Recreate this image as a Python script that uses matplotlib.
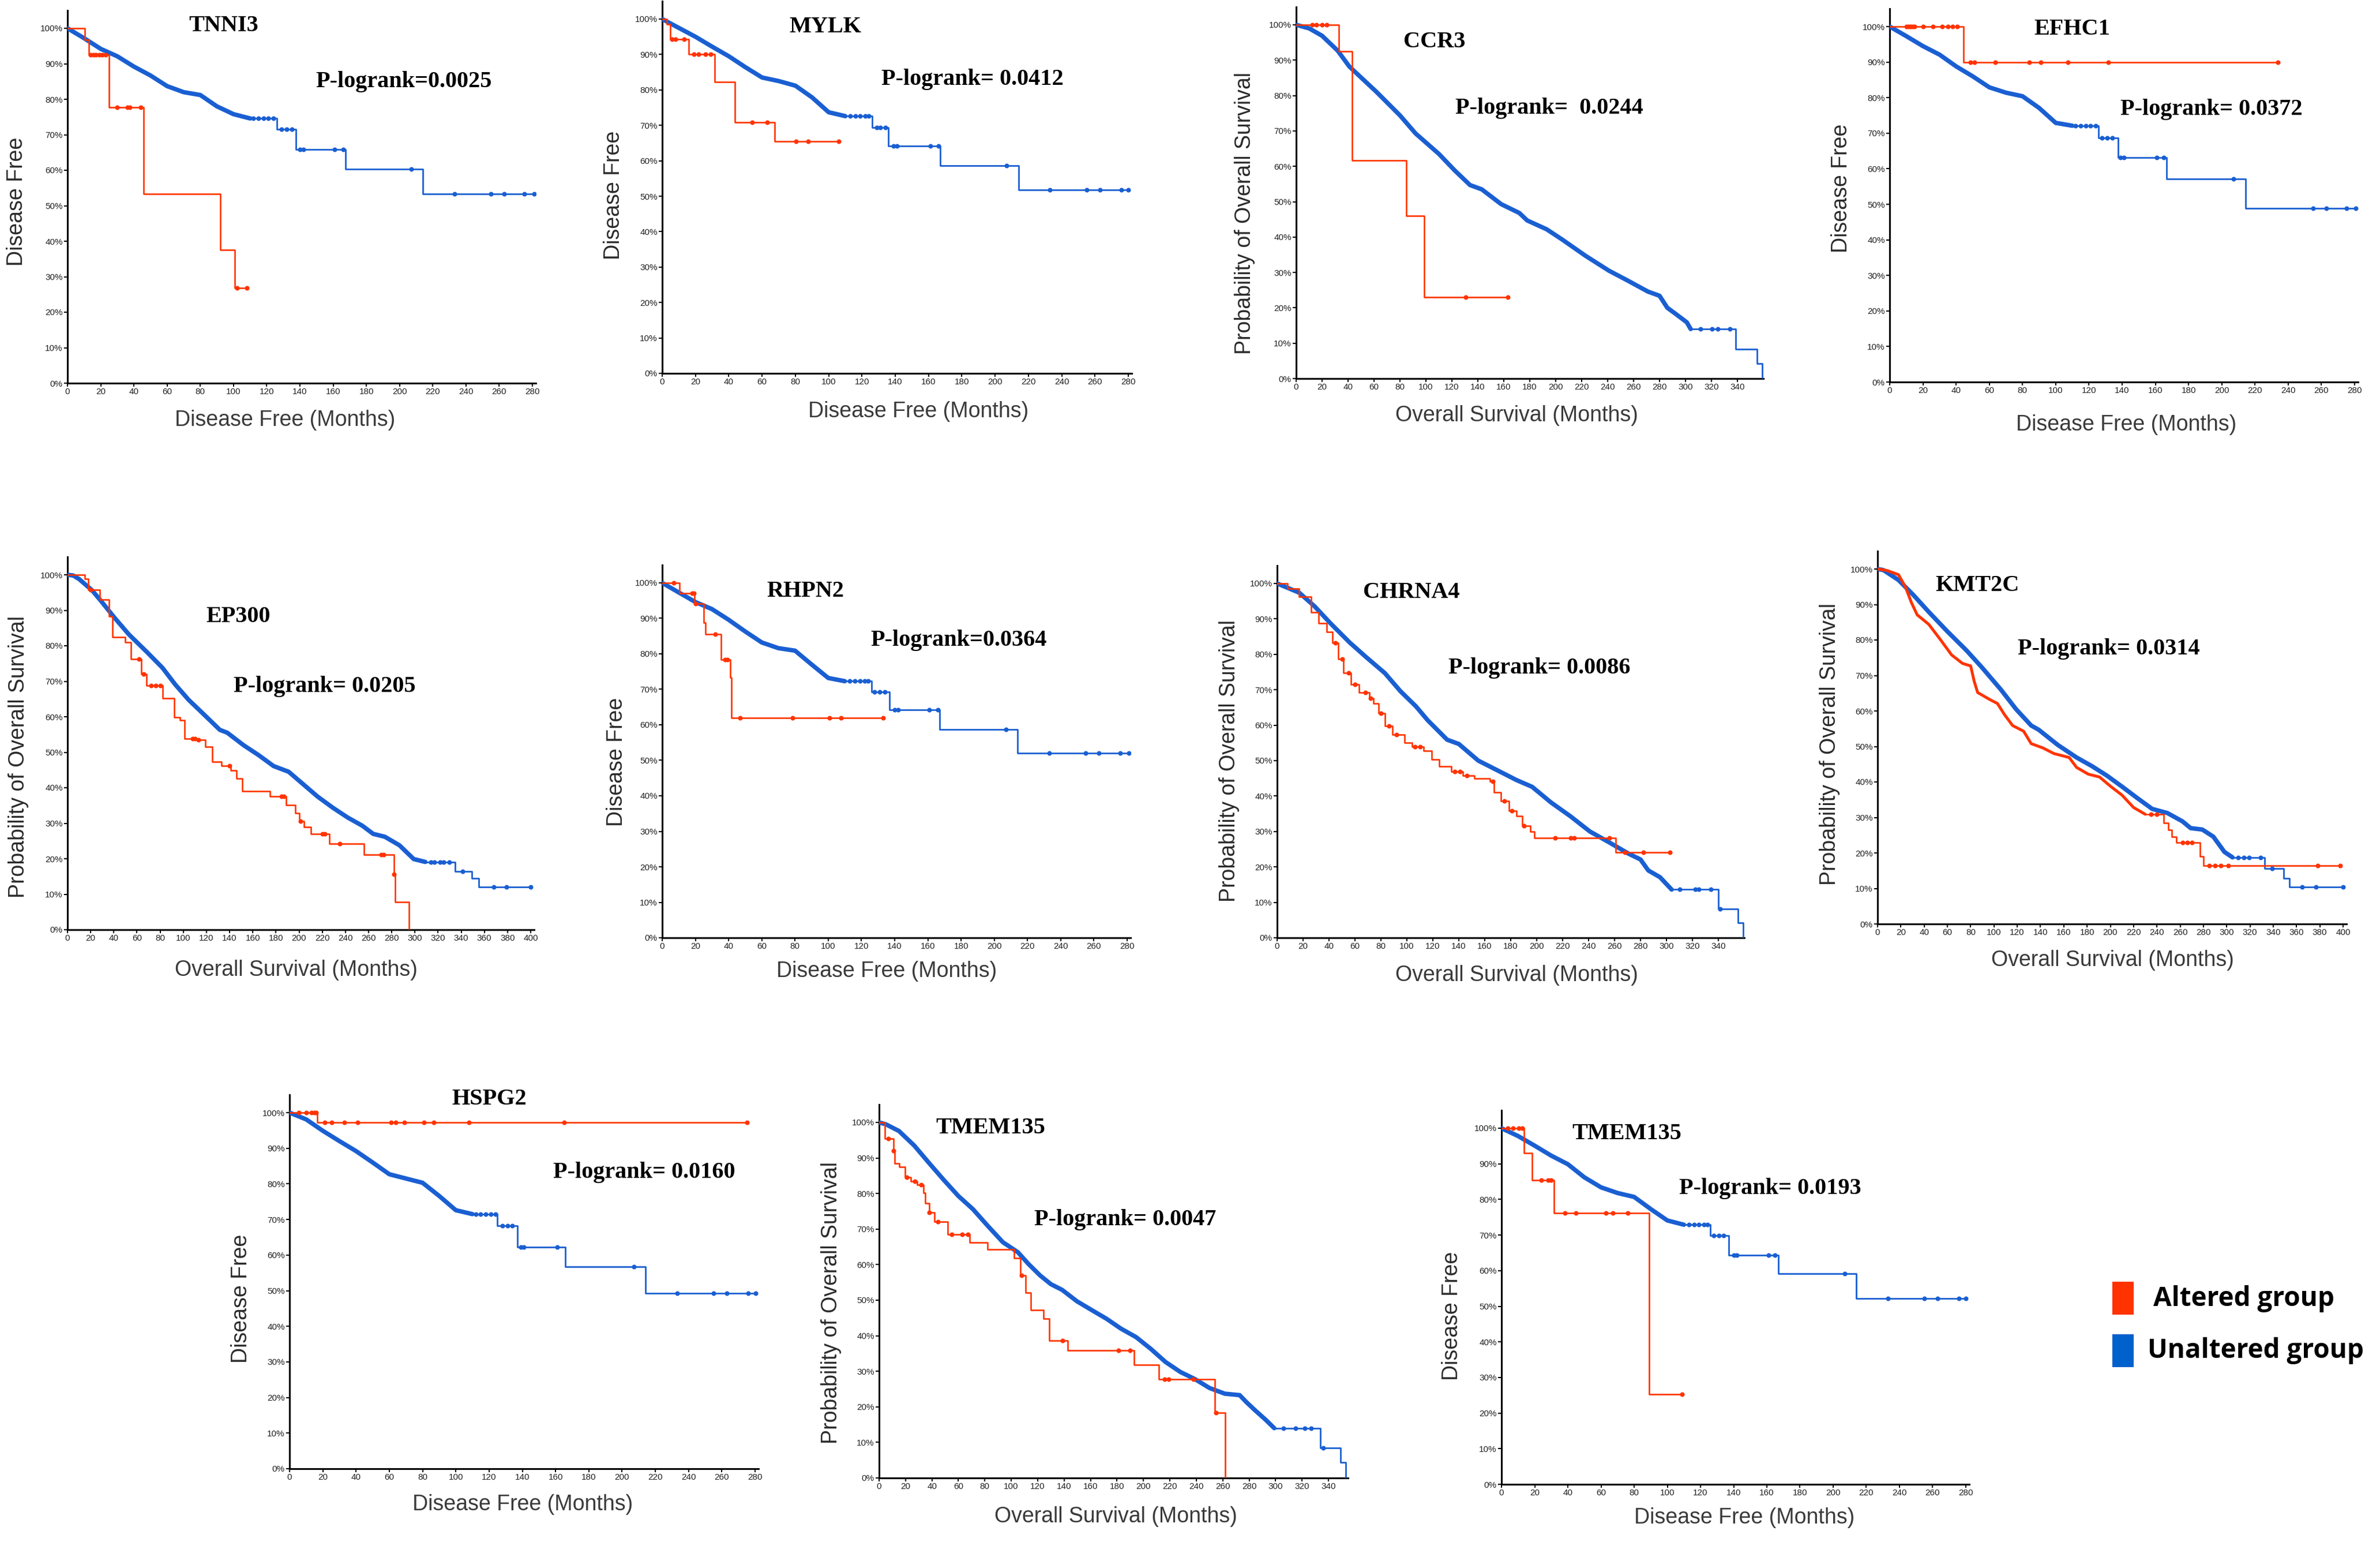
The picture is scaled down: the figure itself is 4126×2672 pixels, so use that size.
import numpy as np
import matplotlib
matplotlib.use("Agg")
import matplotlib.pyplot as plt
from matplotlib.patches import Rectangle

W, H = 4126, 2672

# ---- data: Kaplan-Meier curves (time in months, survival in %) ----
# TNNI3 (disease free)
tnni3_alt_t = [0, 10.5, 13, 25, 46, 92, 100.6, 108]
tnni3_alt_s = [100, 96.7, 92.5, 77.7, 53.3, 37.5, 26.8, 26.8]
tnni3_alt_cens = [14, 15.5, 17, 19, 21, 23, 30, 36, 37.5, 44, 102, 108]
tnni3_unalt_t = [0, 10, 20, 30, 40, 50, 60, 70, 80, 90, 100, 110, 126, 137.4, 167.5, 214, 281]
tnni3_unalt_s = [100, 97.2, 94.2, 92.1, 89.2, 86.7, 83.7, 82, 81.2, 78, 75.8, 74.6, 71.5, 65.8, 60.4, 53.3, 53.3]
tnni3_unalt_cens = [112, 115, 118, 121, 124, 129, 132, 135, 140, 142, 161, 166, 207, 233, 255, 263, 275, 281]

# MYLK (disease free)
mylk_alt_t = [0, 2.8, 4.7, 16, 31.5, 43.6, 67.7, 106]
mylk_alt_s = [100, 98.5, 94.3, 90.1, 82.2, 70.8, 65.5, 65.5]
mylk_alt_cens = [6, 8, 13, 19, 22, 26, 29, 54, 63, 80.5, 87.5, 106]
mylk_unalt_t = [0, 10, 20, 30, 40, 50, 60, 70, 80, 90, 100, 110, 126, 136, 167, 214, 280]
mylk_unalt_s = [100, 97.5, 95, 92.2, 89.5, 86.4, 83.5, 82.5, 81.2, 77.9, 73.7, 72.6, 69.3, 64.1, 58.6, 51.8, 51.8]
mylk_unalt_cens = [113, 116, 119, 122, 124, 129, 131, 134, 139, 141, 161, 166, 207, 233, 255, 263, 276, 280]

# CCR3 (overall survival)
ccr3_alt_t = [0, 33, 43, 85, 98.7, 163]
ccr3_alt_s = [100, 92.5, 61.6, 46, 23, 23]
ccr3_alt_cens = [12.6, 15.5, 20, 23.6, 130.7, 163]
ccr3_unalt_t = [0, 10, 20, 32, 41, 62, 80, 92, 110, 122, 134, 143, 158, 172, 178, 193, 205, 223,
                241, 256, 271, 280, 286, 292, 301, 304, 338.5, 355, 359]
ccr3_unalt_s = [100, 99, 96.9, 92.7, 88.2, 81, 74.4, 69.3, 63.5, 58.9, 54.7, 53.5, 49.3, 46.8, 44.7, 42.2, 39.3, 34.7,
                30.5, 27.6, 24.6, 23.4, 20, 18.4, 15.9, 14, 8.4, 4.2, 0]
ccr3_unalt_cens = [311.6, 320.6, 325, 334]

# EFHC1 (disease free)
efhc1_alt_t = [0, 44.3, 233.8]
efhc1_alt_s = [100, 90, 90]
efhc1_alt_cens = [10, 11, 12, 13, 14, 15, 20, 26, 31.5, 35, 38, 40.7, 48.7, 51, 63.5, 84, 91, 107.4, 131.7, 233.8]
efhc1_unalt_t = [0, 10, 20, 30, 40, 50, 60, 70, 80, 90, 100, 110, 125.7, 137.4, 166.9, 214.4, 280.7]
efhc1_unalt_s = [100, 97.3, 94.5, 92.1, 88.8, 86, 82.9, 81.4, 80.4, 77.1, 72.9, 72.1, 68.7, 63.1, 57.1, 48.9, 48.9]
efhc1_unalt_cens = [112, 115, 118, 121, 124, 128, 131, 134, 139, 141, 161, 165, 207, 255, 263, 275, 280.7]

# EP300 (overall survival)
ep300_alt_t = [0, 15, 18, 28, 36, 39, 50, 55, 64, 68, 82, 92, 97, 101, 112, 119, 125, 133, 141, 146, 151,
               175, 189, 197, 200, 204, 210, 226, 256, 282, 283, 295]
ep300_alt_s = [100, 98.8, 95.7, 93, 88.3, 82.4, 80.9, 76.2, 72, 68.8, 65.2, 59.8, 59, 53.9, 53.5, 51.6, 47.3,
               46.1, 44.9, 42.6, 39, 37.5, 35.2, 32.8, 30.5, 28.9, 27, 24.2, 21.1, 15.6, 7.8, 0]
ep300_alt_cens = [20, 62, 66, 72, 76, 80, 108, 110, 113, 140, 185, 187, 201, 220, 222, 235, 271, 273, 282]
ep300_unalt_t = [0, 5, 10, 21, 29, 40.6, 53, 69, 82, 93, 104.5, 117, 131.6, 138, 152, 165, 178, 191, 203.5,
                 216, 229, 242, 254.6, 264, 274, 286.6, 299, 309, 334.5, 349, 355, 400]
ep300_unalt_s = [100, 99.8, 98.8, 95.7, 92.6, 87.9, 83.2, 78.1, 73.8, 69.1, 64.8, 60.9, 56.3, 55.5, 52, 49.2,
                 46.1, 44.5, 41, 37.5, 34.4, 31.6, 29.3, 27, 26.2, 23.8, 19.9, 19.1, 16.4, 14.5, 12.1, 12.1]
ep300_unalt_cens = [313.7, 317, 321.7, 325, 329.7, 341, 368, 379, 400]

# RHPN2 (disease free)
rhpn2_alt_t = [0, 10.5, 19.4, 25, 26, 35.6, 41, 41.6, 133]
rhpn2_alt_s = [100, 97, 94.1, 88.7, 85.5, 78.3, 73.3, 62, 62]
rhpn2_alt_cens = [7, 18, 19, 20, 32, 38, 39.4, 46.8, 78.4, 100.7, 107.8, 133]
rhpn2_unalt_t = [0, 10, 20, 30, 40, 50, 60, 70, 80, 90, 100, 110, 126, 137, 167, 214, 281]
rhpn2_unalt_s = [100, 97.3, 94.6, 92.6, 89.6, 86.3, 83.2, 81.6, 80.9, 77, 73.2, 72.3, 69.3, 64.2, 58.75, 52, 52]
rhpn2_unalt_cens = [113, 116, 119, 122, 124, 128, 131, 134, 140, 142, 161, 166, 207, 233, 255, 263, 276, 281]

# CHRNA4 (overall survival)
chrna4_alt_t = [0, 8, 17, 26, 32, 38, 42.5, 47, 51, 57, 63, 71, 74, 78, 83, 89, 98, 104, 113, 119, 125, 134,
                143, 152, 164, 167, 172.5, 178.5, 184.5, 189, 195, 198, 260.8, 302.6]
chrna4_alt_s = [100, 98.6, 96.2, 91.9, 88.8, 86.4, 83.3, 78.6, 74.7, 71.5, 69.2, 67.6, 66.1, 63.3, 59.8, 57.4,
                55.1, 53.9, 52.7, 50.4, 48.4, 46.9, 45.7, 44.9, 44.1, 41, 38.6, 35.9, 34.3, 31.6, 30, 28.1, 24.1, 24.1]
chrna4_alt_cens = [45, 50, 55, 60, 68, 72, 80, 86, 92, 106, 110, 137, 141, 146, 166, 175, 181, 190,
                   214, 226, 229, 256, 268, 282, 302.6]
chrna4_unalt_t = [0, 17, 29, 41, 56, 68, 83, 95, 107, 116, 131, 140, 155, 169.5, 184.5, 196.5, 211, 226, 241,
                  256, 271, 280, 286, 295, 304, 340, 355, 359]
chrna4_unalt_s = [100, 97.4, 93.5, 88.8, 83.3, 79.4, 74.7, 69.6, 65.3, 61.4, 55.9, 54.7, 50, 47.3, 44.5, 42.6,
                  38.2, 34.3, 30, 26.9, 23.7, 22.1, 19, 17.1, 13.6, 8.1, 4.2, 0]
chrna4_unalt_cens = [310, 322, 325, 334, 341.5]

# KMT2C (overall survival)
kmt2c_alt_t = [0, 8, 18, 24, 29, 34, 44, 54, 63.6, 73, 80, 83, 86, 96, 103, 109, 116, 125.5, 132, 142, 151.6,
               164.6, 171, 181, 190.7, 200.5, 210, 220, 230, 246, 250, 253, 257, 277, 280, 397.7]
kmt2c_alt_s = [100, 99.6, 98.4, 94.9, 90.6, 87.1, 84.4, 80.1, 75.8, 73.4, 72.7, 68.4, 65.2, 63.3, 62.1, 59, 55.9,
               54.3, 50.8, 49.6, 48, 46.9, 44.1, 42.2, 41.4, 38.7, 36.3, 32.8, 30.9, 28.5, 26.5, 24.5, 23, 19.1,
               16.4, 16.4]
kmt2c_alt_cens = [235, 240, 262, 266, 270, 285, 290, 295, 301.5, 378, 397.7]
kmt2c_unalt_t = [0, 5, 18, 31, 44, 60, 76.6, 89.6, 106, 119, 132, 138.5, 155, 171, 184, 197, 210, 223, 236, 249,
                 262, 269, 279, 288.5, 298, 305, 332.5, 349, 353.7, 400]
kmt2c_unalt_s = [100, 99.7, 96.9, 92.6, 87.9, 82.4, 77, 72.3, 66, 60.5, 55.9, 54.7, 50.4, 46.9, 44.5, 41.8, 38.7,
                 35.5, 32.4, 31.25, 28.9, 27, 26.6, 24.6, 20.3, 18.75, 15.6, 12.9, 10.4, 10.4]
kmt2c_unalt_cens = [310, 314.6, 319, 329, 339, 365, 376.5, 400]

# HSPG2 (disease free)
hspg2_alt_t = [0, 16.7, 275]
hspg2_alt_s = [100, 97.3, 97.3]
hspg2_alt_cens = [5.5, 10, 13.3, 15, 16, 21, 25.5, 33, 41, 61, 64, 69, 81, 86.7, 107.8, 165, 275]
hspg2_unalt_t = [0, 10, 20, 30, 40, 50, 60, 70, 80, 90, 100, 110, 125, 137, 166, 214, 280.5]
hspg2_unalt_s = [100, 98.1, 94.9, 92, 89.2, 86, 82.7, 81.5, 80.3, 76.6, 72.6, 71.5, 68.3, 62.3, 56.8, 49.3, 49.3]
hspg2_unalt_cens = [112, 115, 118, 121, 124, 128, 131, 134, 139, 141, 161, 207, 233, 255, 263, 276, 280.5]

# TMEM135 (overall survival)
tmem_os_alt_t = [0, 4.2, 11, 12, 15.4, 19.6, 24, 29, 33.6, 35, 37.8, 42, 51.8, 68.5, 82, 102, 107, 111, 115,
                 124.5, 128.7, 142.7, 193, 211.8, 253.8, 262]
tmem_os_alt_s = [100, 95.5, 92, 88.5, 87.5, 84.6, 83.5, 82.5, 80.2, 77.3, 74.7, 72, 68.5, 66.3, 64.3, 61.9, 57,
                 52.1, 47.2, 44.8, 38.7, 35.9, 31.8, 27.8, 18.4, 0]
tmem_os_alt_cens = [7, 11, 21, 27, 32, 38, 44.5, 55, 63, 67, 108, 139, 181, 190, 216, 219, 238, 255]
tmem_os_unalt_t = [0, 5, 15, 26.6, 37.8, 49, 60, 71, 82.5, 93.7, 105, 113, 121.7, 130, 138.5, 149.7, 161, 172,
                   183, 194.5, 205.6, 216.8, 228, 239, 250, 261.6, 272.8, 278, 284, 292.4, 299, 333.8, 349, 353]
tmem_os_unalt_s = [100, 99.5, 97.6, 93.5, 88.6, 83.8, 79.3, 75.6, 70.8, 66.3, 63.5, 60.2, 57, 54.5, 52.9, 49.7,
                   47.2, 44.8, 42, 39.6, 36.3, 32.6, 29.8, 27.8, 25.3, 23.7, 23.3, 21.3, 19.2, 16.4, 14, 8.4, 4.4, 0]
tmem_os_unalt_cens = [306, 315, 322, 327, 336]

# TMEM135 (disease free)
tmem_df_alt_t = [0, 13.4, 18.3, 31.6, 88.9, 109]
tmem_df_alt_s = [100, 93.1, 85.4, 76.1, 25.3, 25.3]
tmem_df_alt_cens = [3.8, 7, 10.5, 12.5, 24, 28, 30, 38.3, 45, 62.8, 67, 76, 109]
tmem_df_unalt_t = [0, 10, 20, 30, 40, 50, 60, 70, 80, 90, 100, 110, 126, 137, 167, 214, 280]
tmem_df_unalt_s = [100, 97.8, 95.1, 92.3, 89.9, 86.2, 83.4, 81.8, 80.7, 77.3, 74.1, 72.9, 69.9, 64.4, 59.1, 52.2, 52.2]
tmem_df_unalt_cens = [113, 116, 119, 122, 124, 128, 131, 134, 140, 142, 161, 165, 207, 233, 255, 263, 276, 280]

genes = ["TNNI3", "MYLK", "CCR3", "EFHC1", "EP300", "RHPN2", "CHRNA4", "KMT2C", "HSPG2", "TMEM135", "TMEM135"]
p_texts = ["P-logrank=0.0025", "P-logrank= 0.0412", "P-logrank=  0.0244", "P-logrank= 0.0372",
           "P-logrank= 0.0205", "P-logrank=0.0364", "P-logrank= 0.0086", "P-logrank= 0.0314",
           "P-logrank= 0.0160", "P-logrank= 0.0047", "P-logrank= 0.0193"]
kinds = ["DF", "DF", "OS", "DF", "OS", "DF", "OS", "OS", "DF", "OS", "DF"]
ylabels = {"DF": "Disease Free", "OS": "Probability of Overall Survival"}
xlabels = {"DF": "Disease Free (Months)", "OS": "Overall Survival (Months)"}
legend_labels = ["Altered group", "Unaltered group"]

RED = "#FF3300"
BLUE = "#1A5FD2"
legend_colors = [RED, "#0060CC"]

curves = [
    (tnni3_alt_t, tnni3_alt_s, tnni3_alt_cens, tnni3_unalt_t, tnni3_unalt_s, tnni3_unalt_cens),
    (mylk_alt_t, mylk_alt_s, mylk_alt_cens, mylk_unalt_t, mylk_unalt_s, mylk_unalt_cens),
    (ccr3_alt_t, ccr3_alt_s, ccr3_alt_cens, ccr3_unalt_t, ccr3_unalt_s, ccr3_unalt_cens),
    (efhc1_alt_t, efhc1_alt_s, efhc1_alt_cens, efhc1_unalt_t, efhc1_unalt_s, efhc1_unalt_cens),
    (ep300_alt_t, ep300_alt_s, ep300_alt_cens, ep300_unalt_t, ep300_unalt_s, ep300_unalt_cens),
    (rhpn2_alt_t, rhpn2_alt_s, rhpn2_alt_cens, rhpn2_unalt_t, rhpn2_unalt_s, rhpn2_unalt_cens),
    (chrna4_alt_t, chrna4_alt_s, chrna4_alt_cens, chrna4_unalt_t, chrna4_unalt_s, chrna4_unalt_cens),
    (kmt2c_alt_t, kmt2c_alt_s, kmt2c_alt_cens, kmt2c_unalt_t, kmt2c_unalt_s, kmt2c_unalt_cens),
    (hspg2_alt_t, hspg2_alt_s, hspg2_alt_cens, hspg2_unalt_t, hspg2_unalt_s, hspg2_unalt_cens),
    (tmem_os_alt_t, tmem_os_alt_s, tmem_os_alt_cens, tmem_os_unalt_t, tmem_os_unalt_s, tmem_os_unalt_cens),
    (tmem_df_alt_t, tmem_df_alt_s, tmem_df_alt_cens, tmem_df_unalt_t, tmem_df_unalt_s, tmem_df_unalt_cens),
]

# ---- layout (pixels): x of t=0, x of reference tick, ref tick value, xlim max, y of 0%, y of 100% ----
axes_px = [
    (117, 923, 280, 282, 664, 49),
    (1148, 1956, 280, 282, 647, 33),
    (2247, 3012, 340, 360, 656, 43),
    (3276, 4082, 280, 282, 662, 46),
    (117, 920, 400, 403, 1611, 996),
    (1148, 1954, 280, 282, 1625, 1010),
    (2214, 2979, 340, 360, 1625, 1011),
    (3255, 4062, 400, 403, 1601, 986),
    (502, 1309, 280, 282, 2545, 1928),
    (1524, 2303, 340, 355, 2561, 1945),
    (2603, 3408, 280, 282, 2572, 1955),
]
# text centres (pixels): title, p-value, y label, x label
text_px = [
    ((388, 44), (700, 141), (29, 349), (494, 728)),
    ((1431, 46), (1686, 138), (1064, 338), (1592, 713)),
    ((2487, 72), (2686, 187), (2158, 369), (2629, 720)),
    ((3592, 51), (3834, 190), (3192, 326), (3686, 736)),
    ((413, 1068), (563, 1190), (32, 1311), (513, 1681)),
    ((1396, 1025), (1662, 1109), (1069, 1320), (1537, 1683)),
    ((2447, 1027), (2669, 1157), (2131, 1318), (2629, 1690)),
    ((3428, 1015), (3656, 1125), (3172, 1289), (3662, 1664)),
    ((848, 1905), (1117, 2032), (418, 2250), (906, 2607)),
    ((1717, 1955), (1951, 2114), (1441, 2258), (1934, 2628)),
    ((2820, 1965), (3069, 2059), (2517, 2280), (3024, 2630)),
]
# where each curve stops looking smooth (dense events) and turns into visible steps
alt_smooth_end = [-1, -1, -1, -1, -1, -1, -1, 230, -1, -1, -1]
unalt_smooth_end = [110, 110, 304, 110, 309, 110, 304, 305, 110, 299, 110]


def fx(px):
    return px / W


def fy(py):
    return 1 - py / H


def surv_at(t, s, smooth_end, c):
    if c <= smooth_end:
        return np.interp(c, t, s)
    i = np.searchsorted(t, c, side="right") - 1
    return s[max(i, 0)]


def draw_curve(ax, t, s, cens, color, smooth_end, lw_thick, lw_thin, ms):
    t = np.asarray(t, float)
    s = np.asarray(s, float)
    k = int(np.searchsorted(t, smooth_end, side="right"))
    if k > 1:
        ax.plot(t[:k], s[:k], color=color, lw=lw_thick, solid_joinstyle="round",
                solid_capstyle="round", zorder=3)
    j = max(k - 1, 0)
    ax.plot(t[j:], s[j:], drawstyle="steps-post", color=color, lw=lw_thin, zorder=3)
    cy = [surv_at(t, s, smooth_end, c) for c in cens]
    ax.plot(cens, cy, "o", color=color, ms=ms, zorder=4)


fig = plt.figure(figsize=(W / 100, H / 100), dpi=100)

for i in range(len(genes)):
    x0, xr, xrv, xmax, y0, y100 = axes_px[i]
    ppm = (xr - x0) / xrv
    xe = x0 + xmax * ppm
    ytop = y0 - 1.05 * (y0 - y100)
    ax = fig.add_axes([fx(x0), fy(y0), (xe - x0) / W, (y0 - ytop) / H])
    ax.set_xlim(0, xmax)
    ax.set_ylim(0, 105)

    at, a_s, ac, ut, us, uc = curves[i]
    draw_curve(ax, ut, us, uc, BLUE, unalt_smooth_end[i], 5.5, 2.0, 4.8)
    draw_curve(ax, at, a_s, ac, RED, alt_smooth_end[i], 3.6, 1.9, 4.8)

    for side in ["top", "right"]:
        ax.spines[side].set_visible(False)
    for side in ["left", "bottom"]:
        ax.spines[side].set_linewidth(2.2)
        ax.spines[side].set_color("black")
    ax.set_xticks(np.arange(0, xrv + 1, 20))
    ax.set_yticks(np.arange(0, 101, 10))
    ax.set_yticklabels([f"{v}%" for v in range(0, 101, 10)])
    ax.tick_params(axis="both", direction="out", length=4, width=1.5, pad=2,
                   labelsize=11, labelcolor="#222222", color="black")
    for lab in ax.get_xticklabels() + ax.get_yticklabels():
        lab.set_fontfamily("Liberation Sans")

    (tx, ty), (px, py), (lx, ly), (bx, by) = text_px[i]
    fig.text(fx(tx), fy(ty), genes[i], ha="center", va="center", fontsize=29,
             fontweight="bold", family="Liberation Serif", color="black")
    fig.text(fx(px), fy(py), p_texts[i], ha="center", va="center", fontsize=29,
             fontweight="bold", family="Liberation Serif", color="black")
    fig.text(fx(lx), fy(ly), ylabels[kinds[i]], ha="center", va="center", rotation=90,
             fontsize=27, family="Liberation Sans", color="#2a2a2a")
    fig.text(fx(bx), fy(by), xlabels[kinds[i]], ha="center", va="center",
             fontsize=27, family="Liberation Sans", color="#3a3a3a")

# legend
leg_rect_px = [(3662, 2221), (3662, 2312)]
leg_text_px = [(3733, 2250), (3723, 2341)]
for (rx, ry), (lx, ly), lab, col in zip(leg_rect_px, leg_text_px, legend_labels, legend_colors):
    fig.add_artist(Rectangle((fx(rx), fy(ry + 57)), 37 / W, 57 / H, transform=fig.transFigure,
                             facecolor=col, edgecolor="none"))
    fig.text(fx(lx), fy(ly), lab, ha="left", va="center", fontsize=33, fontweight="bold",
             family="Open Sans", color="black")

fig.savefig("out.png", dpi=100, facecolor="white")
